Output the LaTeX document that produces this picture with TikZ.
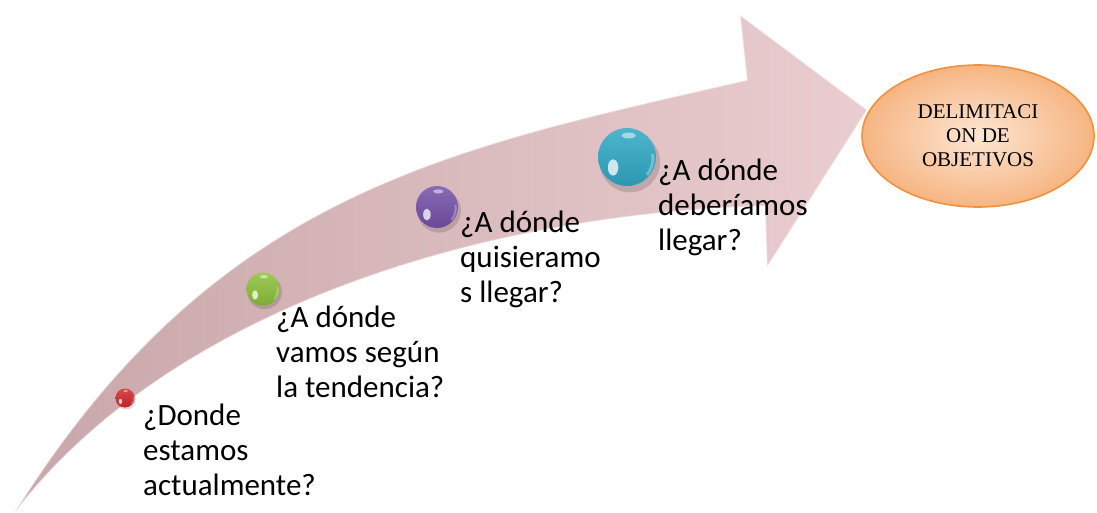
\documentclass[tikz,border=0pt]{standalone}
\usepackage{fontspec}
\setmainfont{Liberation Serif}
\newfontfamily\qfont{Carlito}
\usetikzlibrary{shapes.geometric}
\definecolor{arrowdark}{HTML}{C8A6A9}
\definecolor{arrowlight}{HTML}{EACDD0}
\definecolor{ellfill}{HTML}{FDE6D3}
\definecolor{ellouter}{HTML}{F6B582}
\definecolor{ellline}{HTML}{F0913F}
\definecolor{ballred}{HTML}{D0282C}
\definecolor{ballgreen}{HTML}{8CC03A}
\definecolor{ballpurple}{HTML}{7450A8}
\definecolor{ballcyan}{HTML}{2FA8C4}
\newcommand{\glossball}[5]{%
  \fill[black, opacity=0.14] (#2+0.05*#4, #3+0.09*#4) circle ({0.52*#4});
  \node[ballnode, minimum size=#4, top color=#5!85!white, bottom color=#5!90!black] (#1) at (#2,#3) {};
  \fill[white, opacity=0.75] (#2-0.24*#4, #3+0.18*#4) ellipse ({0.09*#4} and {0.14*#4});
  \fill[white, opacity=0.5] (#2+0.03*#4, #3-0.37*#4) ellipse ({0.12*#4} and {0.05*#4});
  \draw[white, opacity=0.3, line width={0.05*#4}] (#2+0.44*#4, #3-0.05*#4) arc (-10:40:{0.44*#4});
}
\begin{document}
\begin{tikzpicture}[x=1pt,y=-1pt,
  question/.style={anchor=base west, inner sep=0pt, font=\qfont\fontsize{31}{35}\selectfont},
  ballnode/.style={circle, inner sep=0pt, draw=none},
  goal/.style={ellipse, draw=ellline, line width=1.6, inner color=ellfill, outer color=ellouter,
    minimum width=232, minimum height=142, align=center, font=\fontsize{21}{24}\selectfont}]
\useasboundingbox (0,0) rectangle (1097,513);
% arrow
\coordinate (tail) at (15,512);
\coordinate (us) at (747,80);
\coordinate (ht) at (740,15);
\coordinate (tip) at (867,110);
\coordinate (hb) at (767,267);
\coordinate (ls) at (765,206);
\path[left color=arrowdark, right color=arrowlight]
  (tail) .. controls (215,192) and (447,149) .. (us) -- (ht) -- (tip) -- (hb) -- (ls)
  .. controls (465,215) and (165,317) .. (tail) -- cycle;
\draw[white, opacity=0.45, line width=1.5, line join=round]
  (tail) .. controls (215,192) and (447,149) .. (us) -- (ht) -- (tip) -- (hb) -- (ls)
  .. controls (465,215) and (165,317) .. (tail) -- cycle;
% balls
\glossball{b1}{125}{398}{19}{ballred}
\glossball{b2}{263}{289}{33}{ballgreen}
\glossball{b3}{437}{207}{42}{ballpurple}
\glossball{b4}{627}{157}{58}{ballcyan}
% questions
\node[question] (q1) at (143,425) {\parbox[t]{250pt}{¿Donde\\estamos\\actualmente?}};
\node[question] (q2) at (276,327) {\parbox[t]{250pt}{¿A dónde\\vamos según\\la tendencia?}};
\node[question] (q3) at (460,233) {\parbox[t]{250pt}{¿A dónde\\quisieramo\\s llegar?}};
\node[question] (q4) at (658,181) {\parbox[t]{250pt}{¿A dónde\\deberíamos\\llegar?}};
% goal
\node[goal] (obj) at (978,136) {DELIMITACI\\ON DE\\OBJETIVOS};
\end{tikzpicture}
\end{document}
